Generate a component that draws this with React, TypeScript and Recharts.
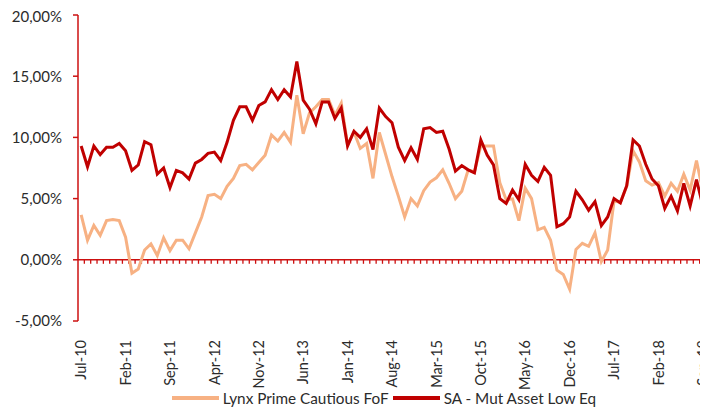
import React from 'react';
import { LineChart, Line, XAxis, YAxis, ReferenceLine, Legend } from 'recharts';

const MONTHS = [
  'Jul-10', 'Aug-10', 'Sep-10', 'Oct-10', 'Nov-10', 'Dec-10',
  'Jan-11', 'Feb-11', 'Mar-11', 'Apr-11', 'May-11', 'Jun-11', 'Jul-11', 'Aug-11', 'Sep-11', 'Oct-11', 'Nov-11', 'Dec-11',
  'Jan-12', 'Feb-12', 'Mar-12', 'Apr-12', 'May-12', 'Jun-12', 'Jul-12', 'Aug-12', 'Sep-12', 'Oct-12', 'Nov-12', 'Dec-12',
  'Jan-13', 'Feb-13', 'Mar-13', 'Apr-13', 'May-13', 'Jun-13', 'Jul-13', 'Aug-13', 'Sep-13', 'Oct-13', 'Nov-13', 'Dec-13',
  'Jan-14', 'Feb-14', 'Mar-14', 'Apr-14', 'May-14', 'Jun-14', 'Jul-14', 'Aug-14', 'Sep-14', 'Oct-14', 'Nov-14', 'Dec-14',
  'Jan-15', 'Feb-15', 'Mar-15', 'Apr-15', 'May-15', 'Jun-15', 'Jul-15', 'Aug-15', 'Sep-15', 'Oct-15', 'Nov-15', 'Dec-15',
  'Jan-16', 'Feb-16', 'Mar-16', 'Apr-16', 'May-16', 'Jun-16', 'Jul-16', 'Aug-16', 'Sep-16', 'Oct-16', 'Nov-16', 'Dec-16',
  'Jan-17', 'Feb-17', 'Mar-17', 'Apr-17', 'May-17', 'Jun-17', 'Jul-17', 'Aug-17', 'Sep-17', 'Oct-17', 'Nov-17', 'Dec-17',
  'Jan-18', 'Feb-18', 'Mar-18', 'Apr-18', 'May-18', 'Jun-18', 'Jul-18', 'Aug-18', 'Sep-18',
];

// Lynx Prime Cautious FoF (%)
const LYNX = [
  3.67, 1.6, 2.8, 2.0, 3.2, 3.3,
  3.2, 1.85, -1.1, -0.75, 0.8, 1.3, 0.35, 1.8, 0.75, 1.6, 1.6, 0.9,
  2.2, 3.5, 5.25, 5.35, 5.0, 6.0, 6.65, 7.7, 7.8, 7.35, 7.95, 8.55,
  10.2, 9.7, 10.4, 9.6, 13.45, 10.3, 12.0, 12.5, 13.1, 13.1, 11.8, 12.8,
  9.4, 10.45, 9.1, 9.5, 6.65, 10.4, 8.6, 6.8, 5.2, 3.5, 5.0, 4.4,
  5.65, 6.35, 6.7, 7.35, 6.25, 5.0, 5.6, 7.34, 7.2, 9.3, 9.3, 9.3,
  6.3, 4.9, 4.98, 3.2, 5.85, 5.0, 2.45, 2.65, 1.6, -0.85, -1.2, -2.4,
  0.85, 1.35, 1.1, 2.2, -0.15, 0.8, 4.8, 4.7, 6.0, 8.9, 8.0, 6.45,
  6.1, 6.3, 5.2, 6.25, 5.6, 7.0, 5.7, 8.1, 5.6,
];

// SA - Mut Asset Low Eq (%)
const SA_LOW_EQ = [
  9.3, 7.6, 9.3, 8.6, 9.2, 9.2,
  9.5, 8.9, 7.3, 7.75, 9.65, 9.4, 7.0, 7.5, 5.9, 7.3, 7.1, 6.6,
  7.9, 8.2, 8.7, 8.8, 8.1, 9.6, 11.4, 12.5, 12.5, 11.4, 12.6, 12.9,
  13.9, 13.1, 13.9, 13.3, 16.2, 13.05, 12.3, 11.1, 12.9, 12.9, 11.55, 12.4,
  9.3, 10.5, 10.0, 10.7, 9.0, 12.4, 11.7, 11.2, 9.2, 8.1, 9.15, 8.2,
  10.7, 10.8, 10.4, 10.5, 9.05, 7.25, 7.7, 7.35, 7.1, 9.8, 8.55, 7.75,
  5.0, 4.6, 5.7, 4.9, 7.8, 6.9, 6.4, 7.55, 6.9, 2.7, 2.95, 3.5,
  5.6, 4.9, 4.05, 4.75, 2.8, 3.5, 5.0, 4.65, 6.05, 9.8, 9.3, 7.8,
  6.6, 6.05, 4.2, 5.2, 4.0, 6.25, 4.4, 6.55, 4.4,
];

const Y_TICKS = [-5, 0, 5, 10, 15, 20];

const ORANGE = '#F7B183';
const RED = '#C00000';
const AXIS_RED = '#CC1010';
const TEXT = '#2b2b2b';

const data = MONTHS.map((m, i) => ({ month: m, lynx: LYNX[i], sa: SA_LOW_EQ[i] }));

const fmtPct = (v: number) => v.toFixed(2).replace('.', ',') + '%';

const MonthTick = (props: any) => {
  const { x, y, payload } = props;
  const ty = y + 19;
  return (
    <text
      x={x}
      y={ty}
      dy="0.36em"
      transform={`rotate(-90 ${x} ${ty})`}
      textAnchor="end"
      fill={TEXT}
      fontSize={14.5}
    >
      {payload.value}
    </text>
  );
};

// zero line with small category-boundary ticks, like the Excel horizontal axis
const ZeroAxis = (props: any) => {
  const { x1, x2, y1 } = props;
  const n = MONTHS.length;
  const step = (x2 - x1) / n;
  const ticks = [];
  for (let k = 1; k <= n; k++) {
    const tx = x1 + k * step;
    ticks.push(<line key={k} x1={tx} x2={tx} y1={y1} y2={y1 + 4} stroke={AXIS_RED} strokeWidth={1.3} />);
  }
  return (
    <g>
      <line x1={x1} x2={x2} y1={y1} y2={y1} stroke={AXIS_RED} strokeWidth={1.5} />
      {ticks}
    </g>
  );
};

const LegendBox = () => (
  <div style={{ display: 'flex', justifyContent: 'center', alignItems: 'center', height: 20, fontSize: 15.3, color: TEXT, paddingLeft: 54 }}>
    <span style={{ display: 'inline-block', width: 47, height: 4, background: ORANGE, marginRight: 4 }} />
    <span style={{ marginRight: 4 }}>Lynx Prime Cautious FoF</span>
    <span style={{ display: 'inline-block', width: 47, height: 4, background: RED, marginRight: 4 }} />
    <span>SA - Mut Asset Low Eq</span>
  </div>
);

export default function App() {
  return (
    <div style={{ fontFamily: 'Lato, sans-serif' }}>
      <LineChart width={700} height={400} data={data} margin={{ top: 7, right: 2, left: 0, bottom: 0 }}>
        <XAxis
          dataKey="month"
          interval={6}
          height={67}
          axisLine={false}
          tickLine={false}
          tickSize={0}
          tickMargin={0}
          padding={{ left: 3.17, right: 3.17 }}
          tick={<MonthTick />}
        />
        <YAxis
          domain={[-5, 20]}
          ticks={Y_TICKS}
          width={70}
          tickFormatter={fmtPct}
          tick={{ fill: TEXT, fontSize: 15 }}
          tickSize={5}
          tickMargin={11}
          axisLine={{ stroke: AXIS_RED, strokeWidth: 1.5 }}
          tickLine={{ stroke: AXIS_RED, strokeWidth: 1.5 }}
          allowDataOverflow
        />
        <ReferenceLine y={0} shape={<ZeroAxis />} />
        <Line type="linear" dataKey="lynx" stroke={ORANGE} strokeWidth={3} dot={false} isAnimationActive={false} />
        <Line type="linear" dataKey="sa" stroke={RED} strokeWidth={3} dot={false} isAnimationActive={false} />
        <Legend verticalAlign="bottom" height={20} content={<LegendBox />} />
      </LineChart>
    </div>
  );
}
